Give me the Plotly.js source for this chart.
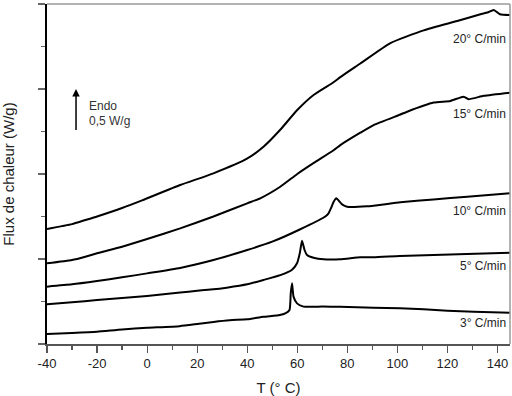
<!DOCTYPE html>
<html>
<head>
<meta charset="utf-8">
<script src="https://cdn.plot.ly/plotly-3.0.1.min.js"></script>
<style>html,body{margin:0;padding:0;background:#fff;}#chart{width:512px;height:396px;}</style>
</head>
<body>
<div id="chart"></div>
<script>
// Temperature (°C) and heat flow (W/g, offset stacked) for each heating rate
const t3 = [-40, -30, -20, -10, 0, 13, 20, 26.5, 33, 40, 46.5, 53, 55.2, 56.9, 57.4, 57.9, 58.5, 59.9, 62.5, 70, 77, 90.5, 101, 110.5, 120, 130.5, 145];
const y3 = [0.118, 0.13, 0.145, 0.172, 0.19, 0.21, 0.235, 0.26, 0.28, 0.29, 0.32, 0.34, 0.36, 0.40, 0.60, 0.714, 0.557, 0.478, 0.44, 0.44, 0.439, 0.427, 0.42, 0.408, 0.392, 0.38, 0.368];

const t5 = [-40, -30, -20, -10, 0, 13.2, 20, 26.5, 31.8, 40, 46.5, 53.2, 57.8, 59.9, 61, 61.9, 62.9, 63.9, 66.5, 70.5, 77.2, 85.2, 90.5, 101, 114.4, 127.7, 145];
const y5 = [0.467, 0.49, 0.518, 0.541, 0.565, 0.605, 0.627, 0.643, 0.663, 0.702, 0.753, 0.81, 0.87, 0.95, 1.067, 1.215, 1.106, 1.047, 1.015, 0.996, 0.996, 1.02, 1.02, 1.035, 1.047, 1.059, 1.074];

const t10 = [-40, -30, -20, -10, 0, 13.2, 26.5, 40, 50, 61.2, 71.2, 72.5, 73.5, 74.5, 75.6, 77.9, 79.9, 87.9, 101.2, 114.4, 127.9, 145];
const y10 = [0.675, 0.702, 0.741, 0.784, 0.831, 0.895, 0.988, 1.106, 1.204, 1.35, 1.5, 1.537, 1.6, 1.67, 1.714, 1.643, 1.615, 1.62, 1.667, 1.7, 1.733, 1.773];

const t15 = [-40, -30, -24.7, -20, -10, 0, 13.2, 26.5, 40, 45.2, 53.2, 60, 66.6, 74.5, 77.2, 85.2, 90.5, 101.2, 103.9, 114.5, 121.2, 126.5, 128.4, 134.5, 145];
const y15 = [0.949, 0.988, 1.027, 1.067, 1.145, 1.235, 1.36, 1.5, 1.655, 1.714, 1.85, 2.0, 2.13, 2.28, 2.34, 2.486, 2.576, 2.70, 2.733, 2.84, 2.86, 2.91, 2.88, 2.92, 2.957];

const t20 = [-40, -30, -25, -20, -10, -2, 13.2, 26.5, 39.9, 46.5, 53.2, 59.9, 66.5, 74.5, 77.2, 85.2, 97.2, 110.5, 123.9, 133.2, 136, 138.5, 141, 145];
const y20 = [1.353, 1.41, 1.455, 1.5, 1.6, 1.69, 1.87, 2.008, 2.18, 2.32, 2.52, 2.75, 2.93, 3.08, 3.14, 3.3, 3.54, 3.69, 3.8, 3.88, 3.9, 3.93, 3.88, 3.87];

const rateLabels = ["3° C/min", "5° C/min", "10° C/min", "15° C/min", "20° C/min"];
const labelY = [0.247, 0.918, 1.565, 2.706, 3.588];
const xTickVals = [-40, -20, 0, 20, 40, 60, 80, 100, 120, 140];
const xTickText = ["-40", "-20", "0", "20", "40", "60", "80", "100", "120", "140"];

const series = [[t3, y3], [t5, y5], [t10, y10], [t15, y15], [t20, y20]];
const font = "Liberation Sans, Arial, sans-serif";

const traces = series.map((s, i) => ({
  x: s[0], y: s[1], type: 'scatter', mode: 'lines', name: rateLabels[i],
  line: {color: '#000', width: 2, shape: 'spline', smoothing: 0.5}, hoverinfo: 'skip'
}));

const annotations = rateLabels.map((lab, i) => ({
  x: 144, y: labelY[i], xref: 'x', yref: 'y', text: lab, showarrow: false,
  xanchor: 'right', yanchor: 'middle', font: {family: font, size: 12, color: '#222'}
}));
annotations.push({
  x: -28.4, y: 3.0, ax: -28.4, ay: 2.5, xref: 'x', yref: 'y', axref: 'x', ayref: 'y',
  text: '', showarrow: true, arrowhead: 2, arrowsize: 1, arrowwidth: 1.5, arrowcolor: '#000'
});
annotations.push({x: -24, y: 2.8, xref: 'x', yref: 'y', text: 'Endo', showarrow: false,
  xanchor: 'left', yanchor: 'middle', font: {family: font, size: 12, color: '#333'}});
annotations.push({x: -24, y: 2.627, xref: 'x', yref: 'y', text: '0,5 W/g', showarrow: false,
  xanchor: 'left', yanchor: 'middle', font: {family: font, size: 12, color: '#333'}});

const layout = {
  width: 512, height: 396,
  margin: {l: 47, r: 2, t: 4, b: 52},
  paper_bgcolor: '#fff', plot_bgcolor: '#fff',
  showlegend: false,
  font: {family: font, size: 13, color: '#222'},
  xaxis: {
    range: [-40, 145], tickvals: xTickVals, ticktext: xTickText, ticks: 'outside', ticklen: 7, tickwidth: 1.2,
    tickcolor: '#555', showgrid: false, zeroline: false, showline: true, linecolor: '#555', linewidth: 1.5,
    tickfont: {family: font, size: 13, color: '#222'},
    minor: {dtick: 10, tick0: -40, ticks: 'outside', ticklen: 4, tickcolor: '#555', tickwidth: 1.2, showgrid: false},
    title: {text: 'T (° C)', font: {family: font, size: 15, color: '#222'}, standoff: 14}
  },
  yaxis: {
    range: [0, 4], dtick: 1, tick0: 0, ticks: 'outside', ticklen: 7, tickwidth: 1.2, tickcolor: '#666',
    showticklabels: false, showgrid: false, zeroline: false, showline: true, linecolor: '#000', linewidth: 2,
    minor: {dtick: 0.5, tick0: 0, ticks: 'outside', ticklen: 4, tickcolor: '#666', tickwidth: 1.2, showgrid: false},
    title: {text: 'Flux de chaleur (W/g)', font: {family: font, size: 15, color: '#222'}, standoff: 22}
  },
  shapes: [
    {type: 'line', xref: 'paper', yref: 'paper', x0: 0, x1: 1, y0: 1, y1: 1, line: {color: '#999', width: 1.5}},
    {type: 'line', xref: 'paper', yref: 'paper', x0: 1, x1: 1, y0: 0, y1: 1, line: {color: '#999', width: 1.5}}
  ],
  annotations: annotations
};

Plotly.newPlot('chart', traces, layout, {displayModeBar: false, staticPlot: true});
</script>
</body>
</html>
